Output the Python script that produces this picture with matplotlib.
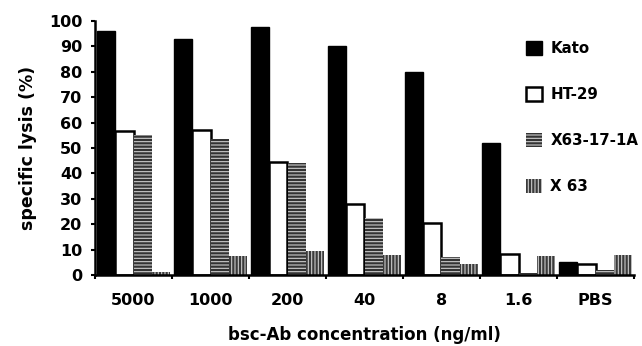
import matplotlib
matplotlib.use('Agg')
import matplotlib.pyplot as plt
import numpy as np

plt.rcParams['font.family'] = ['DejaVu Sans']
plt.rcParams['font.weight'] = 'bold'
plt.rcParams['hatch.linewidth'] = 0.8

# concentrations of bsc-Ab (ng/ml)
concentrations = ['5000', '1000', '200', '40', '8', '1.6', 'PBS']

# specific lysis (%) per target cell line
kato = [96, 93, 97.5, 90, 80, 52, 5]
ht29 = [56.5, 57, 44.5, 28, 20.5, 8.3, 4.5]
x63_17 = [55, 53.5, 44, 22.5, 7, 0.6, 2]
x63 = [1, 7.5, 9.5, 8, 4.5, 7.5, 8]

series = [
    ('Kato', kato, dict(facecolor='black', edgecolor='black', linewidth=1)),
    ('HT-29', ht29, dict(facecolor='white', edgecolor='black', linewidth=1.8)),
    ('X63-17-1A', x63_17, dict(facecolor='#333333', edgecolor='#cccccc', hatch='-----', linewidth=0)),
    ('X 63', x63, dict(facecolor='#3a3a3a', edgecolor='#cccccc', hatch='|||||', linewidth=0)),
]

fig = plt.figure(figsize=(6.42, 3.46), dpi=100)
ax = fig.add_axes([95 / 642, 1 - 275 / 346, 539 / 642, 254 / 346])

x = np.arange(len(concentrations))
width = 0.235
handles = []
for i, (name, vals, style) in enumerate(series):
    h = ax.bar(x + (i - 1.5) * width, vals, width, label=name, **style)
    handles.append(h)

ax.set_xlim(-0.5, len(concentrations) - 0.5)
ax.set_ylim(0, 100)
ax.set_yticks(np.arange(0, 101, 10))
ax.set_xticks(np.arange(-0.5, len(concentrations) - 0.4, 1.0))
ax.set_xticklabels([])
ax.set_xticks(x, minor=True)
ax.set_xticklabels(concentrations, minor=True)
ax.tick_params(axis='x', which='minor', length=0, pad=13, labelsize=11.5)
ax.tick_params(axis='x', which='major', length=3, width=1.5, direction='out')
ax.tick_params(axis='y', length=3, width=1.5, direction='out', labelsize=11.5, pad=6)

for s in ['top', 'right']:
    ax.spines[s].set_visible(False)
for s in ['left', 'bottom']:
    ax.spines[s].set_linewidth(1.8)

ax.set_ylabel('specific lysis (%)', fontsize=12.5, fontweight='bold', labelpad=9)
ax.set_xlabel('bsc-Ab concentration (ng/ml)', fontsize=12, fontweight='bold', labelpad=13)

leg = ax.legend(handles=handles, loc='upper left', bbox_to_anchor=(512 / 642, 1 - 27 / 346),
                bbox_transform=fig.transFigure, frameon=False, fontsize=10.8,
                handlelength=1.1, handleheight=1.1, labelspacing=2.05, handletextpad=0.55)

plt.savefig('out.png', dpi=100)
plt.close()
